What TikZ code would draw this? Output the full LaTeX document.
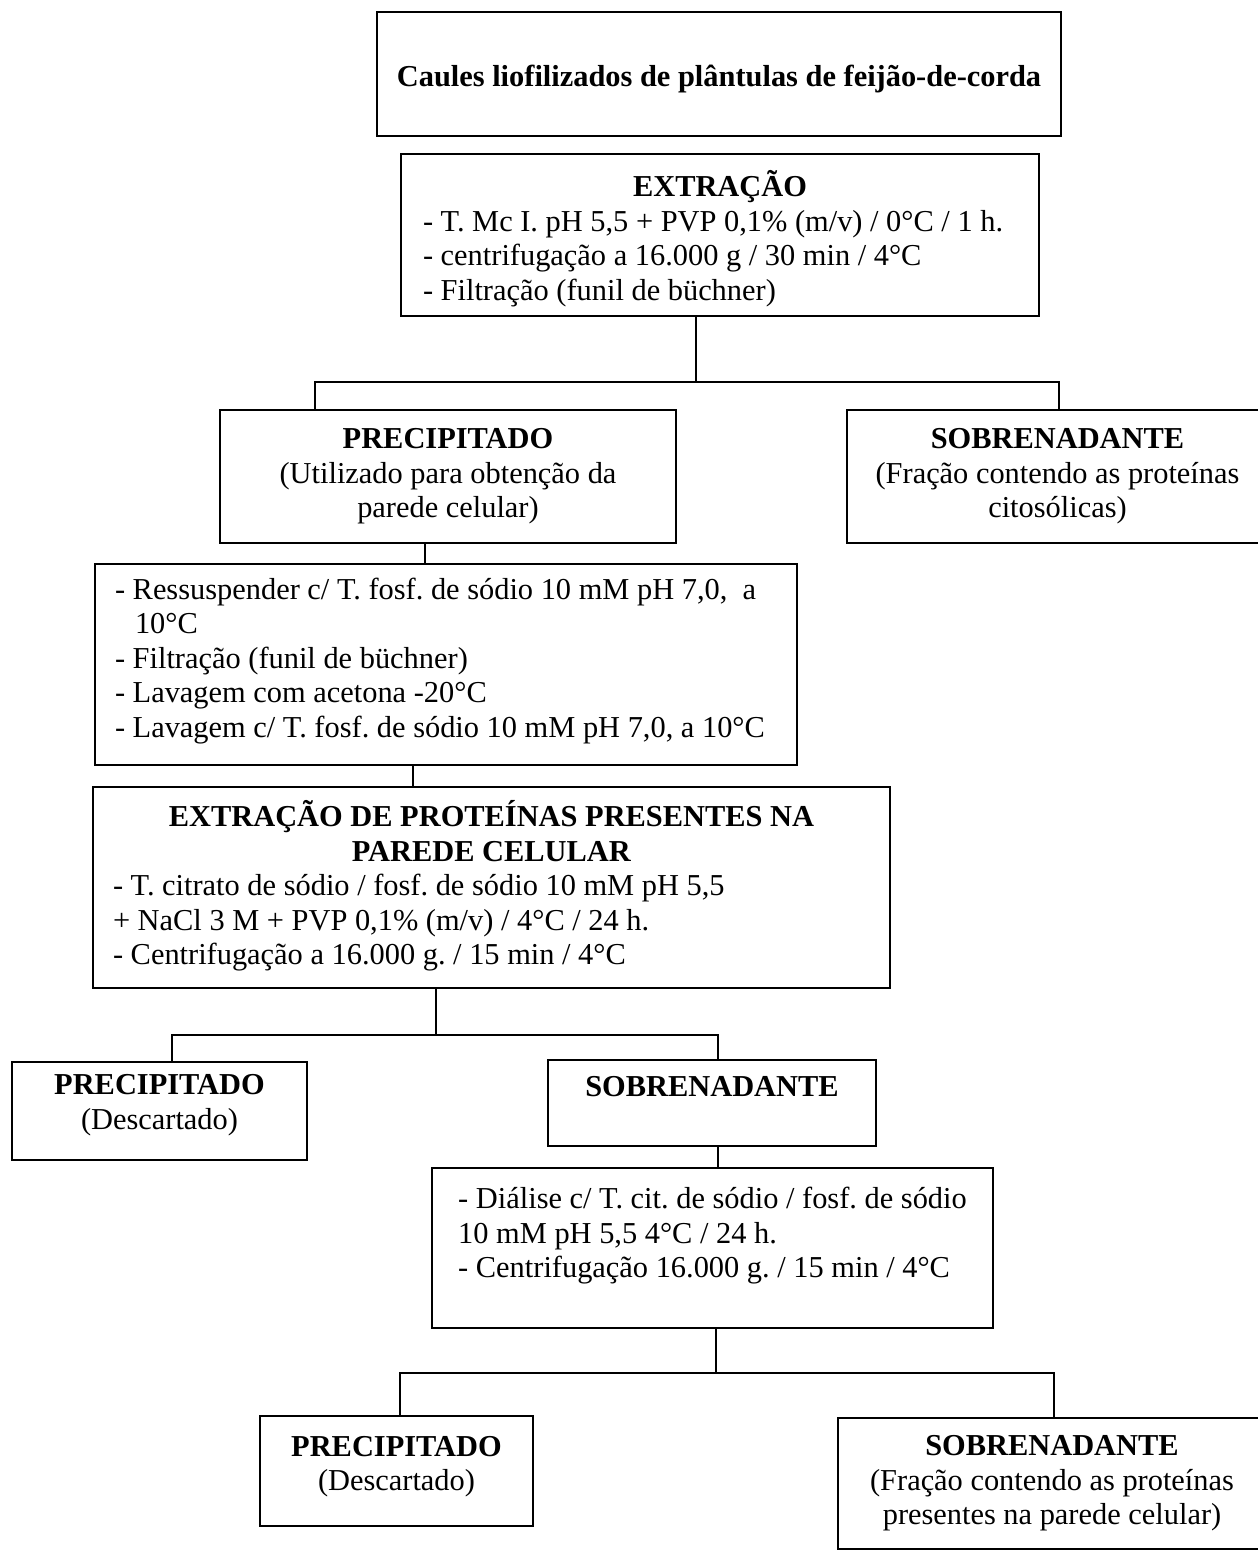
\documentclass[tikz,border=0pt]{standalone}
\usepackage{fontspec}
\setmainfont{Liberation Serif}
\usetikzlibrary{positioning}
\newcommand{\txtsize}{\fontsize{15.2pt}{17.25pt}\selectfont\frenchspacing}
% extra depth under the last line, moves the text up
\newcommand{\lift}[1]{\rule[-#1]{0pt}{#1}}
% extra height above the first line, moves the text down
\newcommand{\sink}[1]{\rule{0pt}{#1}}
\newcommand{\headline}[1]{{\centering\textbf{#1}\par}}

\begin{document}
\begin{tikzpicture}[x=0.5pt, y=-0.5pt, outer sep=0pt]
\tikzstyle{stage}=[draw=black,
                   line width=1.2pt,
                   rectangle,
                   font=\txtsize,
                   inner sep=0pt,
                   align=center]
\tikzstyle{steps}=[stage, align=flush left]
\tikzstyle{link}=[line width=0.7pt]

\useasboundingbox (0,0) rectangle (1257,1551);

\node[stage] (caules)   at (719,74)      [minimum width=342pt, minimum height=62pt] {\sink{17.4pt}\textbf{Caules liofilizados de plântulas de feijão-de-corda}\lift{5pt}};
\node[steps] (extracao) at (720,235)     [text width=297pt, inner xsep=11pt, minimum height=81pt]
  {\headline{\sink{18.35pt}EXTRAÇÃO}- T. Mc I. pH 5,5 + PVP 0,1\% (m/v) / 0°C / 1 h.\\- centrifugação a 16.000 g / 30 min / 4°C\\- Filtração (funil de büchner)\lift{5pt}};

\node[stage] (prec1) at (448,476.5)      [minimum width=228pt, minimum height=66.5pt] {\textbf{PRECIPITADO}\\(Utilizado para obtenção da\\parede celular)};
\node[stage] (sobr1) at (1057.5,476.5)   [minimum width=210.5pt, minimum height=66.5pt] {\textbf{SOBRENADANTE}\\(Fração contendo as proteínas\\citosólicas)};

\node[steps] (ress) at (446,664.5)       [text width=331pt, inner xsep=10pt, minimum height=100.5pt]
  {\sink{11.5pt}- Ressuspender c/ T. fosf. de sódio 10 mM pH 7,0,\ \ a\\\hspace*{10pt}10°C\\- Filtração (funil de büchner)\\- Lavagem com acetona -20°C\\- Lavagem c/ T. fosf. de sódio 10 mM pH 7,0, a 10°C\lift{7.8pt}};

\node[steps] (extprot) at (491.5,887.5)  [text width=378.5pt, inner xsep=10pt, minimum height=100.5pt]
  {\headline{\sink{16.4pt}EXTRAÇÃO DE PROTEÍNAS PRESENTES NA\\PAREDE CELULAR}- T. citrato de sódio / fosf. de sódio 10 mM pH 5,5\\+ NaCl 3 M + PVP 0,1\% (m/v) / 4°C / 24 h.\\- Centrifugação a 16.000 g. / 15 min / 4°C\lift{8pt}};

\node[stage] (prec2) at (159.5,1111)     [minimum width=147.5pt, minimum height=49pt] {\textbf{PRECIPITADO}\\(Descartado)\lift{9.3pt}};
\node[stage] (sobr2) at (712,1103)       [minimum width=164pt, minimum height=43pt] {\textbf{SOBRENADANTE}\lift{17pt}};

\node[stage, align=left] (dial) at (712.5,1248) [minimum width=280.5pt, minimum height=80pt]
  {- Diálise c/ T. cit. de sódio / fosf. de sódio\\10 mM pH 5,5 4°C / 24 h.\\- Centrifugação 16.000 g. / 15 min / 4°C\lift{15.3pt}};

\node[stage] (prec3) at (396.5,1471)     [minimum width=136.5pt, minimum height=55pt] {\textbf{PRECIPITADO}\\(Descartado)\lift{7.8pt}};
\node[stage] (sobr3) at (1052,1483.5)    [minimum width=214pt, minimum height=65.5pt] {\textbf{SOBRENADANTE}\\(Fração contendo as proteínas\\presentes na parede celular)};

% first split
\coordinate (j1)  at (696,382);
\coordinate (j1l) at (315,382);
\coordinate (j1r) at (1059,382);
\draw[link] (extracao.south -| j1) -- (j1);
\draw[link] (prec1.north -| j1l) -- (j1l) -- (j1r) -- (sobr1.north -| j1r);

\coordinate (x1) at (425,0);
\coordinate (x2) at (413,0);
\draw[link] (prec1.south -| x1) -- (ress.north -| x1);
\draw[link] (ress.south -| x2) -- (extprot.north -| x2);

% second split
\coordinate (j2)  at (436,1035);
\coordinate (j2l) at (172,1035);
\coordinate (j2r) at (718,1035);
\draw[link] (extprot.south -| j2) -- (j2);
\draw[link] (prec2.north -| j2l) -- (j2l) -- (j2r) -- (sobr2.north -| j2r);

\coordinate (x3) at (718,0);
\draw[link] (sobr2.south -| x3) -- (dial.north -| x3);

% third split
\coordinate (j3)  at (716,1373);
\coordinate (j3l) at (400,1373);
\coordinate (j3r) at (1054,1373);
\draw[link] (dial.south -| j3) -- (j3);
\draw[link] (prec3.north -| j3l) -- (j3l) -- (j3r) -- (sobr3.north -| j3r);

\end{tikzpicture}
\end{document}
